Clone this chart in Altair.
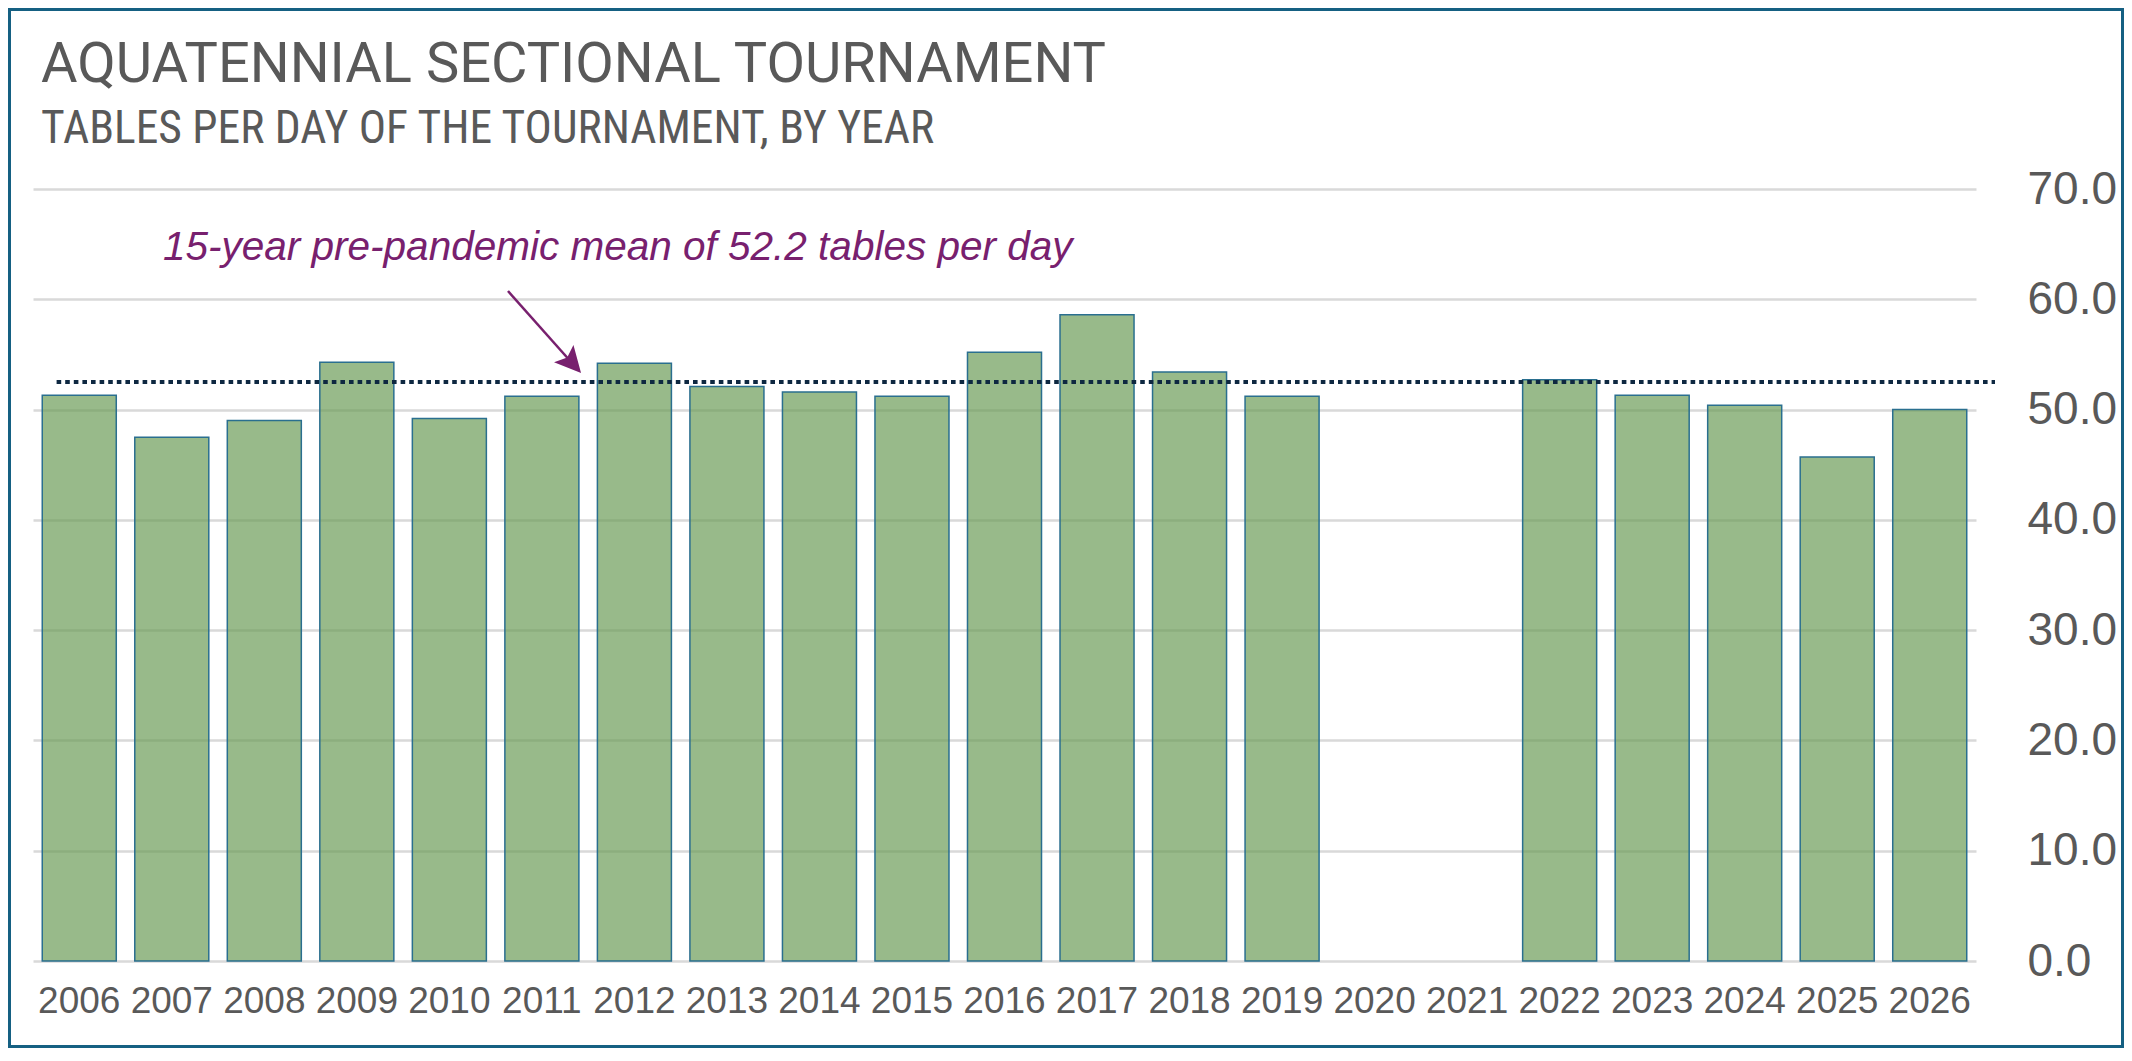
import altair as alt
import pandas as pd

# ---- data ----
years = ["2006", "2007", "2008", "2009", "2010", "2011", "2012", "2013", "2014",
         "2015", "2016", "2017", "2018", "2019", "2020", "2021", "2022", "2023",
         "2024", "2025", "2026"]
tables_per_day = [51.3, 47.5, 49.0, 54.3, 49.2, 51.2, 54.2, 52.1, 51.6,
                  51.2, 55.2, 58.6, 53.4, 51.2, None, None, 52.7, 51.3,
                  50.4, 45.7, 50.0]
y_ticks = [0, 10, 20, 30, 40, 50, 60, 70]
mean_line_level = [52.5]

title_text = "AQUATENNIAL SECTIONAL TOURNAMENT"
subtitle_text = "TABLES PER DAY OF THE TOURNAMENT, BY YEAR"
annotation_text = "15-year pre-pandemic mean of 52.2 tables per day"

# ---- styling ----
GREY = "#595959"
PURPLE = "#78206E"
NAVY = "#0E2841"
BORDER = "#156082"
W, H = 1943, 772
PAD = {"left": 25, "top": 181, "right": 148, "bottom": 87}

bars_df = pd.DataFrame({"year": years, "value": tables_per_day})
mean_df = pd.DataFrame({"value": mean_line_level})
one = pd.DataFrame({"k": [0]})

x_enc = alt.X(
    "year:N", sort=years,
    scale=alt.Scale(domain=years, paddingInner=0.2, paddingOuter=0.1),
    axis=alt.Axis(title=None, labelAngle=0, labelFont="Liberation Sans",
                  labelFontSize=37, labelColor=GREY, labelPadding=22,
                  ticks=False, tickSize=0, domain=False, grid=False),
)
y_enc = alt.Y(
    "value:Q",
    scale=alt.Scale(domain=[0, 70], nice=False, zero=True),
    axis=alt.Axis(orient="right", values=y_ticks, format=".1f", title=None,
                  labelFont="Liberation Sans", labelFontSize=46,
                  labelColor=GREY, labelAlign="left", labelPadding=51,
                  ticks=False, tickSize=0, domain=False, grid=True,
                  gridColor="#D9D9D9", gridWidth=2.5),
)

border = alt.Chart(one).mark_rect(
    fillOpacity=0, stroke=BORDER, strokeWidth=3
).encode(
    x=alt.value(-PAD["left"] + 1.5), x2=alt.value(W + PAD["right"] - 1.5),
    y=alt.value(-PAD["top"] + 1.5), y2=alt.value(H + PAD["bottom"] - 1.5),
)

bars = alt.Chart(bars_df).mark_bar(
    color="#679953", fillOpacity=0.68, stroke="#2A6F8F", strokeWidth=1.5
).encode(x=x_enc, y=y_enc)

mean_rule = alt.Chart(mean_df).mark_rule(
    color=NAVY, strokeWidth=4, strokeDash=[4.6, 4], strokeCap="butt"
).encode(y=y_enc, x=alt.value(23.6), x2=alt.value(1962))

arrow_line = alt.Chart(one).mark_rule(color=PURPLE, strokeWidth=2.5).encode(
    x=alt.value(475), y=alt.value(102), x2=alt.value(539), y2=alt.value(174)
)
arrow_head = alt.Chart(one).mark_point(
    shape="M0,-1L-1,1L0,0.6L1,1Z", size=676, filled=True, color=PURPLE,
    opacity=1, angle=138.3
).encode(x=alt.value(539.4), y=alt.value(174.3))

annotation = alt.Chart(one).mark_text(
    text=annotation_text, font="Liberation Sans", fontStyle="italic",
    fontSize=40.5, color=PURPLE, align="left", baseline="alphabetic"
).encode(x=alt.value(130), y=alt.value(71))

title = alt.Chart(one).mark_text(
    text=title_text, font="Roboto", fontSize=56, color=GREY,
    align="left", baseline="alphabetic"
).encode(x=alt.value(8), y=alt.value(-107.3))

subtitle = alt.Chart(one).mark_text(
    text=subtitle_text, font="Liberation Sans Narrow, Roboto Condensed, Roboto",
    fontSize=45.5, color=GREY, align="left", baseline="alphabetic"
).encode(x=alt.value(8), y=alt.value(-45.7))

chart = alt.layer(
    border, bars, mean_rule, arrow_line, arrow_head, annotation, title, subtitle
).properties(
    width=W, height=H,
    autosize=alt.AutoSizeParams(type="none"),
    padding=PAD,
    background="white",
).configure_view(stroke="transparent")

chart.save("out.html", embed_options={"renderer": "svg", "actions": False})
